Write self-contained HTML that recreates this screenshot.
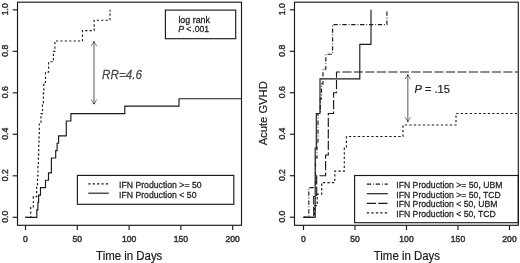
<!DOCTYPE html>
<html><head><meta charset="utf-8"><style>
html,body{margin:0;padding:0;background:#fff;}
body{width:520px;height:263px;overflow:hidden;}
svg{display:block;will-change:transform;}
text{font-family:"Liberation Sans",sans-serif;}
</style></head><body>
<svg width="520" height="263" viewBox="0 0 520 263">
<rect width="520" height="263" fill="#fff"/>
<!-- LEFT PLOT -->
<g fill="none" stroke="#1a1a1a" stroke-width="1.15">
<rect x="17.5" y="2.2" width="224" height="223.1"/>
<line x1="12.7" y1="217.3" x2="17.5" y2="217.3"/>
<line x1="12.7" y1="175.81" x2="17.5" y2="175.81"/>
<line x1="12.7" y1="134.32" x2="17.5" y2="134.32"/>
<line x1="12.7" y1="92.83" x2="17.5" y2="92.83"/>
<line x1="12.7" y1="51.34" x2="17.5" y2="51.34"/>
<line x1="12.7" y1="9.85" x2="17.5" y2="9.85"/>
<line x1="25.5" y1="225.3" x2="25.5" y2="230.10000000000002"/>
<line x1="77.3" y1="225.3" x2="77.3" y2="230.10000000000002"/>
<line x1="129.1" y1="225.3" x2="129.1" y2="230.10000000000002"/>
<line x1="180.9" y1="225.3" x2="180.9" y2="230.10000000000002"/>
<line x1="232.7" y1="225.3" x2="232.7" y2="230.10000000000002"/>
<path d="M25.5,217.3 H36.8 V209.89 H37.9 V202.48 H38.6 V195.07 H40.5 V187.66 H45.5 V180.26 H48.5 V172.85 H51.4 V165.44 H51.4 V158.03 H55.7 V150.62 H57.1 V143.21 H58.6 V135.8 H66.3 V128.39 H66.3 V120.98 H70.9 V113.58 H124.8 V106.17 H179.0 V98.76 H241.5"/>
<path d="M25.5,217.3 H30.7 V206.93 H33.3 V196.56 H36.7 V186.18 H37.5 V175.81 H38.0 V165.44 H38.4 V155.06 H38.7 V144.69 H39.0 V134.32 H39.3 V123.95 H41.0 V113.58 H42.5 V103.2 H43.4 V92.83 H43.8 V82.46 H45.5 V72.09 H48.6 V61.71 H53.4 V51.34 H54.9 V40.97 H82.5 V30.6 H94.2 V20.22 H110.0 V9.85" stroke-dasharray="2.2 2.2"/>
<rect x="165.4" y="10.1" width="70.3" height="28.6"/>
<rect x="77.4" y="175.4" width="156.4" height="28.9"/>
<line x1="88.3" y1="183.9" x2="108.8" y2="183.9" stroke-dasharray="2.2 2.2"/>
<line x1="88.3" y1="193.2" x2="108.8" y2="193.2"/>
</g>
<g fill="none" stroke="#727272" stroke-width="1.2">
<line x1="94" y1="42.5" x2="94" y2="103"/>
</g>
<g fill="none" stroke="#777" stroke-width="1.0">
<path d="M91.2,46 L94,41.8 L96.8,46"/>
<path d="M91.2,99.6 L94,103.8 L96.8,99.6"/>
</g>
<circle cx="94" cy="42" r="0.85" fill="#222"/>
<circle cx="94" cy="103.5" r="0.85" fill="#222"/>
<g font-size="8.6" fill="#333" stroke="#333" stroke-width="0.45">
<text transform="translate(8.3,216.7) rotate(-90)" text-anchor="middle">0.0</text>
<text transform="translate(8.3,175.21) rotate(-90)" text-anchor="middle">0.2</text>
<text transform="translate(8.3,133.72) rotate(-90)" text-anchor="middle">0.4</text>
<text transform="translate(8.3,92.23) rotate(-90)" text-anchor="middle">0.6</text>
<text transform="translate(8.3,50.74) rotate(-90)" text-anchor="middle">0.8</text>
<text transform="translate(8.3,9.25) rotate(-90)" text-anchor="middle">1.0</text>
<text transform="translate(25.5,242.2) scale(1,1.04)" text-anchor="middle">0</text>
<text transform="translate(77.3,242.2) scale(1,1.04)" text-anchor="middle">50</text>
<text transform="translate(129.1,242.2) scale(1,1.04)" text-anchor="middle">100</text>
<text transform="translate(180.9,242.2) scale(1,1.04)" text-anchor="middle">150</text>
<text transform="translate(232.7,242.2) scale(1,1.04)" text-anchor="middle">200</text>
</g>
<g font-size="8.7" fill="#222" stroke="#222" stroke-width="0.25">
<text transform="translate(119.0,187.8) scale(1,1.04)">IFN Production &gt;= 50</text>
<text transform="translate(119.0,197.7) scale(1,1.04)">IFN Production &lt; 50</text>
<text transform="translate(178.4,22.7) scale(1,1.04)" font-size="8.9">log rank</text>
<text transform="translate(178.2,31.7) scale(1,1.04)" font-style="italic">P</text><text transform="translate(186.2,31.7) scale(1,1.04)">&lt;</text><text transform="translate(192.3,31.7) scale(1,1.04)">.001</text>
</g>
<text transform="translate(102,78.6) scale(1,1.04)" font-size="11.7" font-style="italic" fill="#4a4a4a" stroke="#4a4a4a" stroke-width="0.25">RR=4.6</text>
<text transform="translate(129.2,259.6) scale(1,1.05)" font-size="11.45" text-anchor="middle" fill="#222" stroke="#222" stroke-width="0.2">Time in Days</text>

<!-- RIGHT PLOT -->
<g fill="none" stroke="#1a1a1a" stroke-width="1.15">
<rect x="294.5" y="2.2" width="223.8" height="223.1"/>
<line x1="289.7" y1="217.2" x2="294.5" y2="217.2"/>
<line x1="289.7" y1="175.72" x2="294.5" y2="175.72"/>
<line x1="289.7" y1="134.24" x2="294.5" y2="134.24"/>
<line x1="289.7" y1="92.76" x2="294.5" y2="92.76"/>
<line x1="289.7" y1="51.28" x2="294.5" y2="51.28"/>
<line x1="289.7" y1="9.8" x2="294.5" y2="9.8"/>
<line x1="303.5" y1="225.3" x2="303.5" y2="230.10000000000002"/>
<line x1="355.0" y1="225.3" x2="355.0" y2="230.10000000000002"/>
<line x1="406.5" y1="225.3" x2="406.5" y2="230.10000000000002"/>
<line x1="458.0" y1="225.3" x2="458.0" y2="230.10000000000002"/>
<line x1="509.5" y1="225.3" x2="509.5" y2="230.10000000000002"/>
<path d="M303.5,217.2 H315.2 V182.63 H315.2 V148.07 H316.3 V113.5 H320.0 V78.93 H359.8 V44.37 H371.0 V9.8"/>
<path d="M303.5,217.2 H308.8 V202.39 H308.8 V187.57 H315.5 V172.76 H315.5 V157.94 H317.0 V143.13 H318.0 V128.31 H318.0 V113.5 H320.3 V98.69 H321.5 V83.87 H323.0 V69.06 H325.8 V54.24 H332.6 V39.43 H332.6 V24.61 H386.9 V9.8" stroke-dasharray="4.3 2 0.8 1.8"/>
<path d="M303.5,217.2 H313.7 V196.46 H316.7 V175.72 H325.6 V154.98 H328.3 V134.24 H328.3 V113.5 H333.6 V92.76 H336.5 V72.02 H518" stroke-dasharray="9.2 2.3"/>
<path d="M303.5,217.2 H314.6 V205.68 H317.2 V194.16 H321.7 V182.63 H334.8 V171.11 H344.3 V159.59 H344.3 V148.07 H346.4 V136.54 H403.0 V125.02 H456.0 V113.5 H518" stroke-dasharray="2.3 2.2"/>
<rect x="354.6" y="175.5" width="163.7" height="47.2"/>
<line x1="366.8" y1="184.1" x2="387.8" y2="184.1" stroke-dasharray="4.3 2 0.8 1.8"/>
<line x1="366.8" y1="193.7" x2="387.8" y2="193.7"/>
<line x1="366.8" y1="203.3" x2="387.8" y2="203.3" stroke-dasharray="9.2 2.3"/>
<line x1="366.8" y1="212.9" x2="387.8" y2="212.9" stroke-dasharray="2.3 2.2"/>
</g>
<g fill="none" stroke="#727272" stroke-width="1.2">
<line x1="407.8" y1="75.5" x2="407.8" y2="120.5"/>
</g>
<g fill="none" stroke="#777" stroke-width="1.0">
<path d="M405,79.3 L407.8,75 L410.6,79.3"/>
<path d="M405,117.2 L407.8,121.3 L410.6,117.2"/>
</g>
<circle cx="407.8" cy="75.2" r="0.85" fill="#222"/>
<circle cx="407.8" cy="121" r="0.85" fill="#222"/>
<g font-size="8.6" fill="#333" stroke="#333" stroke-width="0.45">
<text transform="translate(285.3,216.6) rotate(-90)" text-anchor="middle">0.0</text>
<text transform="translate(285.3,175.12) rotate(-90)" text-anchor="middle">0.2</text>
<text transform="translate(285.3,133.64) rotate(-90)" text-anchor="middle">0.4</text>
<text transform="translate(285.3,92.16) rotate(-90)" text-anchor="middle">0.6</text>
<text transform="translate(285.3,50.68) rotate(-90)" text-anchor="middle">0.8</text>
<text transform="translate(285.3,9.2) rotate(-90)" text-anchor="middle">1.0</text>
<text transform="translate(303.5,242.2) scale(1,1.04)" text-anchor="middle">0</text>
<text transform="translate(355.0,242.2) scale(1,1.04)" text-anchor="middle">50</text>
<text transform="translate(406.5,242.2) scale(1,1.04)" text-anchor="middle">100</text>
<text transform="translate(458.0,242.2) scale(1,1.04)" text-anchor="middle">150</text>
<text transform="translate(509.5,242.2) scale(1,1.04)" text-anchor="middle">200</text>
</g>
<g font-size="8.65" fill="#222" stroke="#222" stroke-width="0.25">
<text transform="translate(396.3,188) scale(1,1.04)">IFN Production &gt;= 50, UBM</text>
<text transform="translate(396.3,197.6) scale(1,1.04)">IFN Production &gt;= 50, TCD</text>
<text transform="translate(396.3,207.2) scale(1,1.04)">IFN Production &lt; 50, UBM</text>
<text transform="translate(396.3,216.8) scale(1,1.04)">IFN Production &lt; 50, TCD</text>
</g>
<text transform="translate(414.4,93.2) scale(1,1.04)" font-size="11.1" fill="#222" stroke="#222" stroke-width="0.2"><tspan font-style="italic">P</tspan> = .15</text>
<text transform="translate(406.9,259.6) scale(1,1.05)" font-size="11.45" text-anchor="middle" fill="#222" stroke="#222" stroke-width="0.2">Time in Days</text>
<text transform="translate(267.2,113.3) rotate(-90)" font-size="11.2" text-anchor="middle" fill="#222" stroke="#222" stroke-width="0.2">Acute GVHD</text>
</svg>
</body></html>
